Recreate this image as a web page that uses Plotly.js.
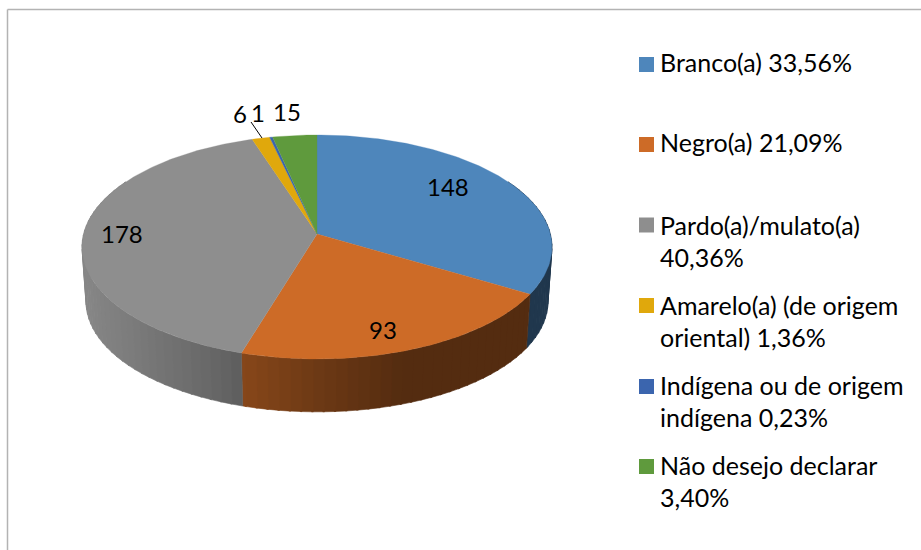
<!DOCTYPE html>
<html><head><meta charset="utf-8">
<script src="https://cdn.plot.ly/plotly-3.0.1.min.js"></script>
<style>html,body{margin:0;padding:0;background:#fff}#c{width:921px;height:550px}</style>
</head><body><div id="c"></div>
<script>
// Data
const categories = ["Branco(a)","Negro(a)","Pardo(a)/mulato(a)","Amarelo(a) (de origem oriental)","Indígena ou de origem indígena","Não desejo declarar"];
const counts = [148,93,178,6,1,15];
const percentLabels = ["33,56%","21,09%","40,36%","1,36%","0,23%","3,40%"];
const legendLines = [
  ["Branco(a) 33,56%"],
  ["Negro(a) 21,09%"],
  ["Pardo(a)/mulato(a)","40,36%"],
  ["Amarelo(a) (de origem","oriental) 1,36%"],
  ["Indígena ou de origem","indígena 0,23%"],
  ["Não desejo declarar","3,40%"]
];
// Styles and layout
const colors = ["#4e86bb","#cd6b27","#8e8e8e","#e0a80c","#3b65ae","#5f9a3d"];
const legendY = [62,142,225,305,385,465];
const swatchY = [64.5,144.5,225,305.5,386.5,466.5];
const labelPos = [[448,186],[383,329],[122,233],[240,113],[258,112],[287,111]];
const FONT = "Lato, Carlito, sans-serif";
const top3d = {cx:317, cy:234, a:110.5, b:233.4, k:0.116};
const bottom3d = {cx:317, cy:289, a:108.6, b:229.4, k:0.116};
const shadeX = [87,200,242,317,400,560];
const shadeV = [0.95,0.75,0.66,0.53,0.41,0.41];

function project(p, deg){
  const t = deg*Math.PI/180, w = 1 + p.k*Math.cos(t);
  return [p.cx + p.b*Math.sin(t)/w, p.cy - p.a*Math.cos(t)/w];
}
function shade(x){
  if (x<=shadeX[0]) return shadeV[0];
  for (let i=1;i<shadeX.length;i++) if (x<=shadeX[i]) {
    const f=(x-shadeX[i-1])/(shadeX[i]-shadeX[i-1]);
    return shadeV[i-1]+f*(shadeV[i]-shadeV[i-1]);
  }
  return shadeV[shadeV.length-1];
}
function darken(hex,f){
  const n=parseInt(hex.slice(1),16);
  return `rgb(${Math.round((n>>16&255)*f)},${Math.round((n>>8&255)*f)},${Math.round((n&255)*f)})`;
}
const total = counts.reduce((a,b)=>a+b,0);
let start = 0;
const walls = [], tops = [];
counts.forEach((v,i)=>{
  const end = start + v/total*360;
  const from = Math.max(start,60), to = Math.min(end,300);
  for (let d=from; d<to; d+=2.5){
    const e=Math.min(d+2.5,to), ext=Math.min(e+0.4,to);
    const p1=project(top3d,d),p2=project(top3d,ext),p3=project(bottom3d,ext),p4=project(bottom3d,d);
    const col=darken(colors[i],shade((p3[0]+p4[0])/2));
    walls.push({x:[p1[0],p2[0],p3[0],p4[0],p1[0]],y:[p1[1],p2[1],p3[1],p4[1],p1[1]],
      mode:"lines",fill:"toself",fillcolor:col,line:{color:col,width:0.6},hoverinfo:"skip",showlegend:false});
  }
  const xs=[top3d.cx], ys=[top3d.cy];
  const n=Math.max(2,Math.ceil(end-start));
  for(let j=0;j<=n;j++){const q=project(top3d,start+(end-start)*j/n);xs.push(q[0]);ys.push(q[1]);}
  xs.push(top3d.cx);ys.push(top3d.cy);
  tops.push({x:xs,y:ys,mode:"lines",fill:"toself",fillcolor:colors[i],line:{color:colors[i],width:0.3},
    name:categories[i],text:counts[i]+" ("+percentLabels[i]+")",hoverinfo:"name+text",showlegend:false});
  start=end;
});
const swatches = categories.map((c,i)=>({x:[646.5],y:[swatchY[i]],mode:"markers",
  marker:{symbol:"square",size:15,color:colors[i],line:{width:0}},hoverinfo:"skip",showlegend:false}));
const leader = {x:[251,262],y:[122,138],mode:"lines",line:{color:"#000",width:1},hoverinfo:"skip",showlegend:false};

const annotations=[];
counts.forEach((v,i)=>annotations.push({x:labelPos[i][0],y:labelPos[i][1],text:String(v),showarrow:false,
  xanchor:"center",yanchor:"middle",font:{family:FONT,size:24,color:"#000"}}));
legendLines.forEach((lines,i)=>lines.forEach((t,j)=>annotations.push({x:658,y:legendY[i]+j*32,text:t,showarrow:false,
  xanchor:"left",yanchor:"middle",font:{family:FONT,size:25,color:"#000"}})));

const axis={visible:false,fixedrange:true};
Plotly.newPlot("c",[...walls,...tops,...swatches,leader],{
  width:921,height:550,margin:{l:0,r:0,t:0,b:0},paper_bgcolor:"#fff",plot_bgcolor:"#fff",showlegend:false,
  xaxis:{...axis,range:[0,921]},yaxis:{...axis,range:[550,0]},
  annotations,
  shapes:[
    {type:"line",x0:7.5,x1:921,y0:9.5,y1:9.5,line:{color:"#b3b3b3",width:1.5}},
    {type:"line",x0:7.5,x1:7.5,y0:9.5,y1:550,line:{color:"#b3b3b3",width:1.5}}
  ]
},{displayModeBar:false});
</script></body></html>
